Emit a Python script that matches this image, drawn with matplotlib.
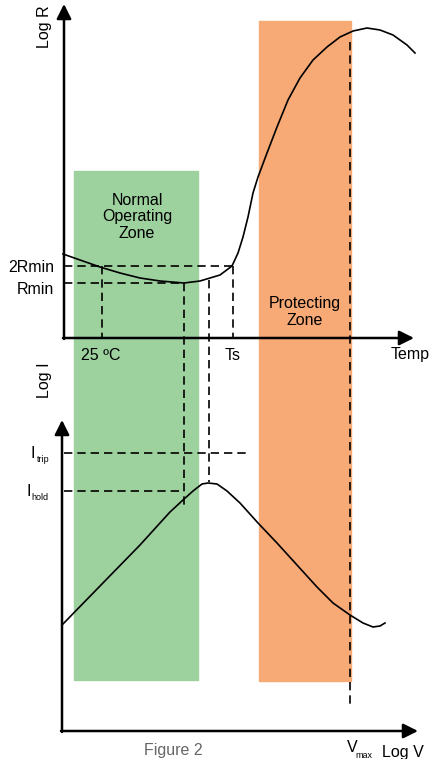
import numpy as np
from matplotlib import pyplot as plt
from matplotlib.patches import Rectangle

plt.rcParams['font.family'] = ['Liberation Sans', 'DejaVu Sans']

# 図は画素座標 (x: 0-429, y: 0-759, 下向き) で描く
# R-T 曲線（上段）
r_curve_x = [63, 80, 100, 120, 140, 160, 184, 200, 220, 232, 238, 243, 248, 253, 258, 267, 277, 288, 300, 313, 327, 340, 353, 367, 380, 393, 407, 415]
r_curve_y = [254, 260, 267, 273, 278, 281, 283, 281, 275, 266, 253, 237, 217, 193, 177, 153, 127, 100, 78, 60, 47, 37, 31, 28, 30, 35, 45, 53]
# I-V 曲線（下段）
i_curve_x = [62, 100, 140, 170, 183, 193, 202, 208, 217, 227, 240, 258, 277, 297, 317, 333, 350, 363, 373, 380, 385]
i_curve_y = [625, 586, 545, 512, 500, 491, 484, 483, 484, 491, 503, 523, 543, 565, 587, 603, 615, 623, 627, 626, 623]

# 補助線の位置
y_2rmin, y_rmin = 266, 283
x_25c, x_rmin, x_peak, x_ts, x_vmax = 102, 184, 209, 233, 350
y_itrip, y_ihold = 453, 491

fig = plt.figure(figsize=(4.29, 7.59), dpi=100)
ax = fig.add_axes([0, 0, 1, 1])
ax.set_xlim(0, 429)
ax.set_ylim(759, 0)
ax.axis("off")

# ゾーン
ax.add_patch(Rectangle((74, 171), 124, 509, color="#9dd19e", zorder=0))
ax.add_patch(Rectangle((259, 21), 92, 660, color="#f7a976", zorder=0))

# 軸（矢印）
arrow = dict(arrowstyle="-|>", lw=1.8, mutation_scale=22, color="black", shrinkA=0, shrinkB=0)
ax.annotate("", xy=(64, 4), xytext=(64, 339), arrowprops=arrow)
ax.annotate("", xy=(414, 338), xytext=(63, 338), arrowprops=arrow)
ax.annotate("", xy=(62, 420), xytext=(62, 732), arrowprops=arrow)
ax.annotate("", xy=(418, 731), xytext=(61, 731), arrowprops=arrow)

# 破線
dash = dict(color="black", lw=1.2, ls=(0, (5, 3)))
ax.plot([64, x_ts], [y_2rmin, y_2rmin], **dash)
ax.plot([64, x_rmin], [y_rmin, y_rmin], **dash)
ax.plot([x_25c, x_25c], [y_2rmin, 338], **dash)
ax.plot([x_ts, x_ts], [y_2rmin, 338], **dash)
ax.plot([x_rmin, x_rmin], [y_rmin, 507], **dash)
ax.plot([x_peak, x_peak], [280, 482], **dash)
ax.plot([x_vmax, x_vmax], [42, 705], **dash)
ax.plot([64, 247], [y_itrip, y_itrip], **dash)
ax.plot([64, x_rmin], [y_ihold, y_ihold], **dash)

# 曲線
ax.plot(r_curve_x, r_curve_y, color="black", lw=1.2, solid_joinstyle="round")
ax.plot(i_curve_x, i_curve_y, color="black", lw=1.2, solid_joinstyle="round")

# テキスト
fs = 11.5
ax.text(45, 27, "Log R", rotation=90, ha="center", va="center", fontsize=fs)
ax.text(45, 380, "Log I", rotation=90, ha="center", va="center", fontsize=fs)
ax.text(54, 267, "2Rmin", ha="right", va="center", fontsize=fs)
ax.text(54, 290, "Rmin", ha="right", va="center", fontsize=fs)
ax.text(101, 355, "25 ºC", ha="center", va="center", fontsize=fs)
ax.text(233, 355, "Ts", ha="center", va="center", fontsize=fs)
ax.text(391, 355, "Temp", ha="left", va="center", fontsize=fs)
ax.text(137, 217, "Normal\nOperating\nZone", ha="center", va="center", fontsize=fs, linespacing=1.15)
ax.text(305, 312, "Protecting\nZone", ha="center", va="center", fontsize=fs, linespacing=1.15)
ax.text(31, 453, "I", ha="left", va="center", fontsize=fs)
ax.text(37, 460, "trip", ha="left", va="center", fontsize=6.5)
ax.text(26, 491, "I", ha="left", va="center", fontsize=fs)
ax.text(31, 498, "hold", ha="left", va="center", fontsize=6.5)
ax.text(173, 750, "Figure 2", ha="center", va="center", fontsize=fs, color="#666666")
ax.text(347, 748, "V", ha="left", va="center", fontsize=fs)
ax.text(355, 756, "max", ha="left", va="center", fontsize=6.5)
ax.text(382, 752, "Log V", ha="left", va="center", fontsize=fs)

fig.savefig("out.png", dpi=100)
plt.close(fig)
